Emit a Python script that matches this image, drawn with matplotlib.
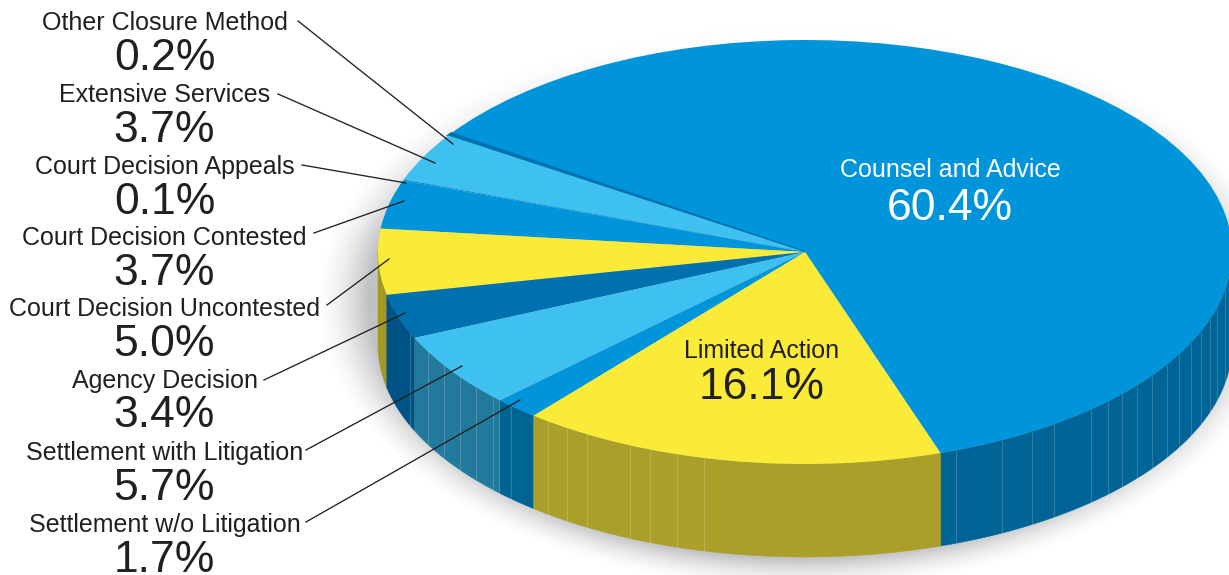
import numpy as np
import matplotlib
matplotlib.use('Agg')
import matplotlib.pyplot as plt
from matplotlib.colors import LinearSegmentedColormap

plt.rcParams['font.family'] = ['Liberation Sans', 'DejaVu Sans']

names = ['Counsel and Advice', 'Other Closure Method', 'Extensive Services',
         'Court Decision Appeals', 'Court Decision Contested',
         'Court Decision Uncontested', 'Agency Decision',
         'Settlement with Litigation', 'Settlement w/o Litigation', 'Limited Action']
shares = [60.4, 0.2, 3.7, 0.1, 3.7, 5.0, 3.4, 5.7, 1.7, 16.1]

top_colors = ['#0095DA', '#0071AF', '#3EC1F0', '#0095DA', '#0095DA',
              '#F9EB38', '#0071AF', '#3EC1F0', '#0095DA', '#F9EB38']
wall_colors = ['#006496', '#005385', '#21799B', '#006492', '#006492',
               '#A39826', '#005385', '#21799B', '#006492', '#AA9F28']

# everything below is laid out in image pixels
W, H = 1229, 575
cx, cy, rx, ry, depth = 805, 252, 427, 212, 93
k = rx / ry
def yd(y):
    return (H - y) * k

# label column: (name baseline, percent baseline, leader start, leader end)
label_x = 164.5
side_labels = {
    'Other Closure Method': (30, 70, (298, 21), (453, 144)),
    'Extensive Services': (102, 142, (278, 94), (435, 163)),
    'Court Decision Appeals': (174, 214, (302, 165), (406, 183)),
    'Court Decision Contested': (245, 285, (314, 233), (404, 201)),
    'Court Decision Uncontested': (316, 356, (327, 305), (389, 259)),
    'Agency Decision': (388, 427, (264, 380), (405, 313)),
    'Settlement with Litigation': (460, 500, (306, 450), (462, 366)),
    'Settlement w/o Litigation': (532, 572, (306, 522), (520, 400)),
}
inner_labels = {
    'Counsel and Advice': (950, 177, 220, 'white'),
    'Limited Action': (762, 358, 399, '#231F20'),
}
seam_x = [410, 428, 444, 460, 476, 493, 499, 511, 548, 567, 587, 630, 650, 677, 704,
          956, 1002, 1032, 1054, 1091, 1108, 1122, 1137, 1152, 1167, 1179, 1191,
          1201, 1210, 1217, 1225]

fig = plt.figure(figsize=(W / 100, H / 100), dpi=100)
ax = fig.add_axes([0, 0, 1, 1])

# soft shadow under the disc, it dies out towards the top of the picture
X, Y = np.meshgrid(np.arange(W), np.arange(H))
r = np.sqrt(((X - 800) / 432) ** 2 + ((Y - 300) / 258) ** 2)
shadow = 0.42 * np.clip(1 - (r - 1) * 300 / 36, 0, 1) ** 1.6
shadow = shadow * np.clip((Y - 40) / 200, 0.04, 1)
grey = LinearSegmentedColormap.from_list('grey', [(0.42, 0.43, 0.45, 0), (0.42, 0.43, 0.45, 1)])
ax.imshow(shadow, cmap=grey, vmin=0, vmax=1, extent=(0, W, 0, yd(0)), aspect='auto', zorder=0)

wedges, _ = ax.pie(shares, colors=top_colors, startangle=-71.5, counterclock=True,
                   center=(cx, yd(cy)), radius=rx, frame=True,
                   wedgeprops={'linewidth': 0, 'zorder': 3})
wedges[1].set_edgecolor(top_colors[1])
wedges[1].set_linewidth(1.6)

# side wall, only the front half of the rim shows
for w, c in zip(wedges, wall_colors):
    for shift in (0, 360):
        a = max(w.theta1 + shift, 180)
        b = min(w.theta2 + shift, 360)
        if b <= a:
            continue
        t = np.radians(np.linspace(a, b, 120))
        xs = cx + rx * np.cos(t)
        ys = yd(cy) + rx * np.sin(t)
        ax.fill(np.r_[xs, xs[::-1]], np.r_[ys, ys[::-1] - depth * k], color=c, lw=0.3, zorder=1)

# facet seams on the wall
sx = np.array(seam_x, dtype=float)
rim = yd(cy) - rx * np.sqrt(1 - ((sx - cx) / rx) ** 2)
ax.vlines(sx, rim - depth * k, rim, color='white', alpha=0.18, lw=0.8, zorder=2)

for n, (y1, y2, p0, p1) in side_labels.items():
    v = shares[names.index(n)]
    ax.text(label_x, yd(y1), n, fontsize=18, color='#231F20', ha='center', va='baseline', zorder=5)
    ax.text(label_x, yd(y2), f'{v}%', fontsize=32, color='#231F20', ha='center', va='baseline', zorder=5)
    ax.plot([p0[0], p1[0]], [yd(p0[1]), yd(p1[1])], color='#231F20', lw=0.95, zorder=4)

for n, (x, y1, y2, c) in inner_labels.items():
    v = shares[names.index(n)]
    ax.text(x, yd(y1), n, fontsize=18, color=c, ha='center', va='baseline', zorder=5)
    ax.text(x, yd(y2), f'{v}%', fontsize=32, color=c, ha='center', va='baseline', zorder=5)

ax.set_aspect('auto')
ax.set_xlim(0, W)
ax.set_ylim(0, yd(0))
ax.axis('off')
fig.savefig('out.png', dpi=100)
